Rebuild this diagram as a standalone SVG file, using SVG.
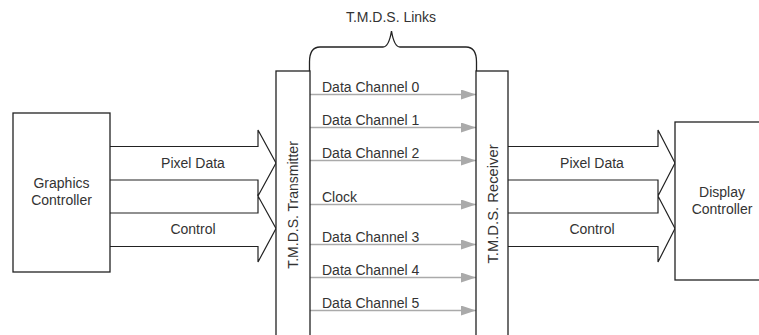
<svg xmlns="http://www.w3.org/2000/svg" width="759" height="335" viewBox="0 0 759 335">
<defs>
<style>
.b{fill:#fff;stroke:#222;stroke-width:1.3}
.a{fill:#fff;stroke:#222;stroke-width:1.2;stroke-linejoin:miter}
.ch{stroke:#aaa;stroke-width:1.3;fill:none}
.t{font-family:"Liberation Sans",Arial,sans-serif;font-size:14px;fill:#333}
.m{text-anchor:middle}
</style>
<marker id="ah" viewBox="0 0 15 10" refX="15" refY="5" markerWidth="15" markerHeight="10" markerUnits="userSpaceOnUse" orient="auto">
<path d="M0,0 L15,5 L0,10 Z" fill="#aaa"/>
</marker>
</defs>
<rect width="759" height="335" fill="#fff"/>

<g id="connectors">
<path class="a" d="M110,146.5 H258 V130 L276,163 L258,196 V180 H110"/>
<path class="a" d="M110,213 H258 V196 L276,228.5 L258,262 V246.5 H110"/>
<path class="a" d="M508,146.5 H658 V130 L675,163 L658,196 V180 H508"/>
<path class="a" d="M508,213 H658 V196 L675,228.5 L658,262 V246.5 H508"/>
<line class="ch" x1="310" y1="94.5" x2="476" y2="94.5" marker-end="url(#ah)"/>
<line class="ch" x1="310" y1="127.5" x2="476" y2="127.5" marker-end="url(#ah)"/>
<line class="ch" x1="310" y1="160.5" x2="476" y2="160.5" marker-end="url(#ah)"/>
<line class="ch" x1="310" y1="204.5" x2="476" y2="204.5" marker-end="url(#ah)"/>
<line class="ch" x1="310" y1="244.5" x2="476" y2="244.5" marker-end="url(#ah)"/>
<line class="ch" x1="310" y1="277.5" x2="476" y2="277.5" marker-end="url(#ah)"/>
<line class="ch" x1="310" y1="310.5" x2="476" y2="310.5" marker-end="url(#ah)"/>
<path d="M309.5,71 V62 C309.5,52 313,47 320,47 H383 C387,47 390,40 391.5,31 C393,40 396,47 400,47 H466 C473,47 476.5,52 476.5,62 V71" fill="none" stroke="#222" stroke-width="1.3"/>
<text class="t m" x="193" y="168">Pixel Data</text>
<text class="t m" x="193" y="233.5">Control</text>
<text class="t m" x="592" y="168">Pixel Data</text>
<text class="t m" x="592" y="233.5">Control</text>
<text class="t" x="322" y="92">Data Channel 0</text>
<text class="t" x="322" y="125">Data Channel 1</text>
<text class="t" x="322" y="158">Data Channel 2</text>
<text class="t" x="322" y="202">Clock</text>
<text class="t" x="322" y="242">Data Channel 3</text>
<text class="t" x="322" y="275">Data Channel 4</text>
<text class="t" x="322" y="308">Data Channel 5</text>
<text class="t m" x="391" y="22">T.M.D.S. Links</text>
</g>

<g id="graphics-controller">
<rect class="b" x="13" y="113" width="97" height="159"/>
<text class="t m" x="61.5" y="188">Graphics</text>
<text class="t m" x="61.5" y="205">Controller</text>
</g>

<g id="transmitter">
<rect class="b" x="276" y="71" width="34" height="280"/>
<text class="t m" transform="translate(298,205) rotate(-90)">T.M.D.S. Transmitter</text>
</g>

<g id="receiver">
<rect class="b" x="476" y="71" width="32" height="280"/>
<text class="t m" transform="translate(498,204) rotate(-90)" style="font-size:14.8px">T.M.D.S. Receiver</text>
</g>

<g id="display-controller">
<rect class="b" x="675" y="122" width="100" height="158"/>
<text class="t m" x="722" y="197">Display</text>
<text class="t m" x="722" y="214">Controller</text>
</g>
</svg>
